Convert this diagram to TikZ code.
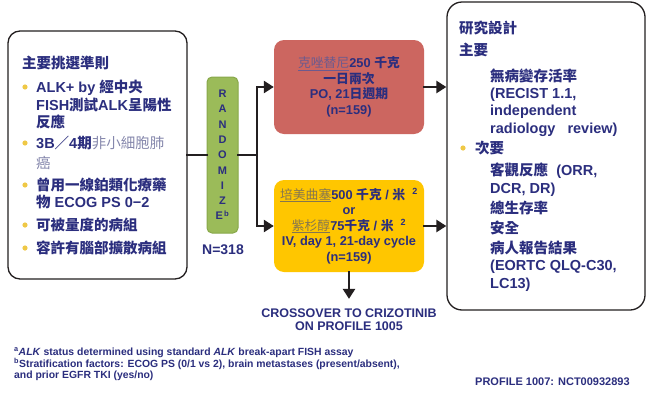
\documentclass[tikz,border=0pt]{standalone}
\usepackage{fontspec}
\setmainfont{Liberation Sans}
\newfontfamily\cjk{Noto Sans CJK TC}
\usetikzlibrary{arrows.meta}
\newcommand\zh[1]{{\cjk #1}}
\definecolor{navy}{HTML}{2B2E7E}
\definecolor{softblue}{HTML}{8587AC}
\definecolor{gold}{HTML}{EFC846}
\definecolor{redbox}{HTML}{CC6660}
\definecolor{yelbox}{HTML}{FFC600}
\definecolor{grnbox}{HTML}{9BBB59}
\definecolor{grnedge}{HTML}{88A84A}
\definecolor{drugA}{HTML}{6C5A8E}
\definecolor{drugB}{HTML}{85764F}
\definecolor{linec}{HTML}{231F20}
\begin{document}
\begin{tikzpicture}[x=1pt,y=-1pt,
  txt/.style={font=\fontsize{14.5}{17}\selectfont\bfseries, text=navy, inner sep=0pt, anchor=base west},
  frame/.style={draw=linec, line width=1.3pt, rounded corners=12pt, inner sep=0pt},
  arm/.style={draw=linec, line width=2.8pt, line cap=rect},
  arr/.style={arm, -{Triangle[length=10pt,width=12pt]}},
  armbox/.style={rounded corners=10pt, inner sep=0pt, minimum width=150pt, align=center,
    font=\fontsize{12.8}{15.5}\selectfont\bfseries, text=navy},
  foot/.style={font=\fontsize{10.4}{10}\selectfont\bfseries, text=navy, inner sep=0pt, anchor=base west}
]
\useasboundingbox (0,0) rectangle (646,394);
\fill[white] (0,0) rectangle (646,394);

% frames
\node[frame, minimum width=179pt, minimum height=248pt] (lbox) at (97.5,155) {};
\node[frame, rounded corners=15pt, minimum width=198pt, minimum height=308pt] (rbox) at (546,156) {};

% left box text
\node[txt] (t0) at (22,68) {\zh{主要挑選準則}};
\node[txt] (l1) at (36,92) {ALK+ by \zh{經中央}};
\node[txt] (l2) at (36,110) {FISH\zh{測試}ALK\zh{呈陽性}};
\node[txt] (l3) at (36,127) {\zh{反應}};
\node[txt] (l4) at (36,148) {3B\zh{／}4\zh{期}{\color{softblue}\mdseries\zh{非小細胞肺}}};
\node[txt, text=softblue, font=\fontsize{14.5}{17}\selectfont\mdseries] (l5) at (36,168) {\zh{癌}};
\node[txt] (l6) at (36,190) {\zh{曾用一線鉑類化療藥}};
\node[txt] (l7) at (36,207) {\zh{物} ECOG PS 0−2};
\node[txt] (l8) at (36,230) {\zh{可被量度的病組}};
\node[txt] (l9) at (36,253) {\zh{容許有腦部擴散病組}};
\foreach \yy in {87,143,185,225,248} \fill[gold] (25,\yy) circle (2.6pt);

% randomize
\node[fill=grnbox, draw=grnedge, line width=1pt, rounded corners=5pt, minimum width=31pt,
  minimum height=156pt, inner sep=0pt, align=center,
  font=\fontsize{11}{15.3}\selectfont\bfseries, text=navy] (rnd) at (222.5,155)
  {R\\A\\N\\D\\O\\M\\I\\Z\\E\textsuperscript{\,b}};
\node[font=\fontsize{14}{16}\selectfont\bfseries, text=navy, inner sep=0pt] (nn) at (223,250) {N=318};

% arms
\node[armbox, fill=redbox, minimum height=94pt] (red) at (349,87)
  {{\color{drugA}\mdseries\underline{\zh{克唑替尼}}}250 \zh{千克}\\
   \zh{一日兩次}\\
   PO, 21\zh{日週期}\\
   (n=159)};
\node[armbox, fill=yelbox, minimum height=92pt] (yel) at (349,226)
  {{\color{drugB}\mdseries\underline{\zh{培美曲塞}}}500 \zh{千克}\ /\ \zh{米}\ \ \textsuperscript{2}\\
   or\\
   {\color{drugB}\mdseries\underline{\zh{紫杉醇}}}75\zh{千克}\ /\ \zh{米}\ \ \textsuperscript{2}\\
   IV, day 1, 21-day cycle\\
   (n=159)};

\node[font=\fontsize{12.5}{13}\selectfont\bfseries, text=navy, align=center, inner sep=0pt] (cross) at (349,320)
  {CROSSOVER TO CRIZOTINIB\\ON PROFILE 1005};

% connectors
\coordinate (split) at (257,155);
\draw[arm] (lbox.east) -- (rnd.west);
\draw[arm] (rnd.east) -- (split);
\draw[arr] (split) |- (red.west);
\draw[arr] (split) |- (yel.west);
\draw[arr] (red.east) -- (red.east -| rbox.west);
\draw[arr] (yel.east) -- (yel.east -| rbox.west);
\draw[arr] (yel.south) -- ([yshift=10pt]cross.north);

% right box text
\node[txt] (r0) at (459,33) {\zh{研究設計}};
\node[txt] (r1) at (459,55) {\zh{主要}};
\node[txt] (r2) at (490,81) {\zh{無病變存活率}};
\node[txt] (r3) at (490,98) {(RECIST 1.1,};
\node[txt] (r4) at (490,115) {independent};
\node[txt] (r5) at (490,133) {radiology\ \ \ review)};
\fill[gold] (463,148) circle (2.6pt);
\node[txt] (r6) at (475,153) {\zh{次要}};
\node[txt] (r7) at (490,175) {\zh{客觀反應}\ \ (ORR,};
\node[txt] (r8) at (490,193) {DCR, DR)};
\node[txt] (r9) at (490,213) {\zh{總生存率}};
\node[txt] (r10) at (490,233) {\zh{安全}};
\node[txt] (r11) at (490,253) {\zh{病人報告結果}};
\node[txt] (r12) at (490,270) {(EORTC QLQ-C30,};
\node[txt] (r13) at (490,288) {LC13)};

% footnotes
\node[foot] (f1) at (14,355.5) {\textsuperscript{a}\textit{ALK} status determined using standard \textit{ALK} break-apart FISH assay};
\node[foot] (f2) at (14,367) {\textsuperscript{b}Stratification factors: ECOG PS (0/1 vs 2), brain metastases (present/absent),};
\node[foot] (f3) at (14,378.5) {and prior EGFR TKI (yes/no)};
\node[font=\fontsize{11}{13}\selectfont\bfseries, text=navy, inner sep=0pt, anchor=base west] (prof) at (475,385) {PROFILE 1007: NCT00932893};
\end{tikzpicture}
\end{document}
